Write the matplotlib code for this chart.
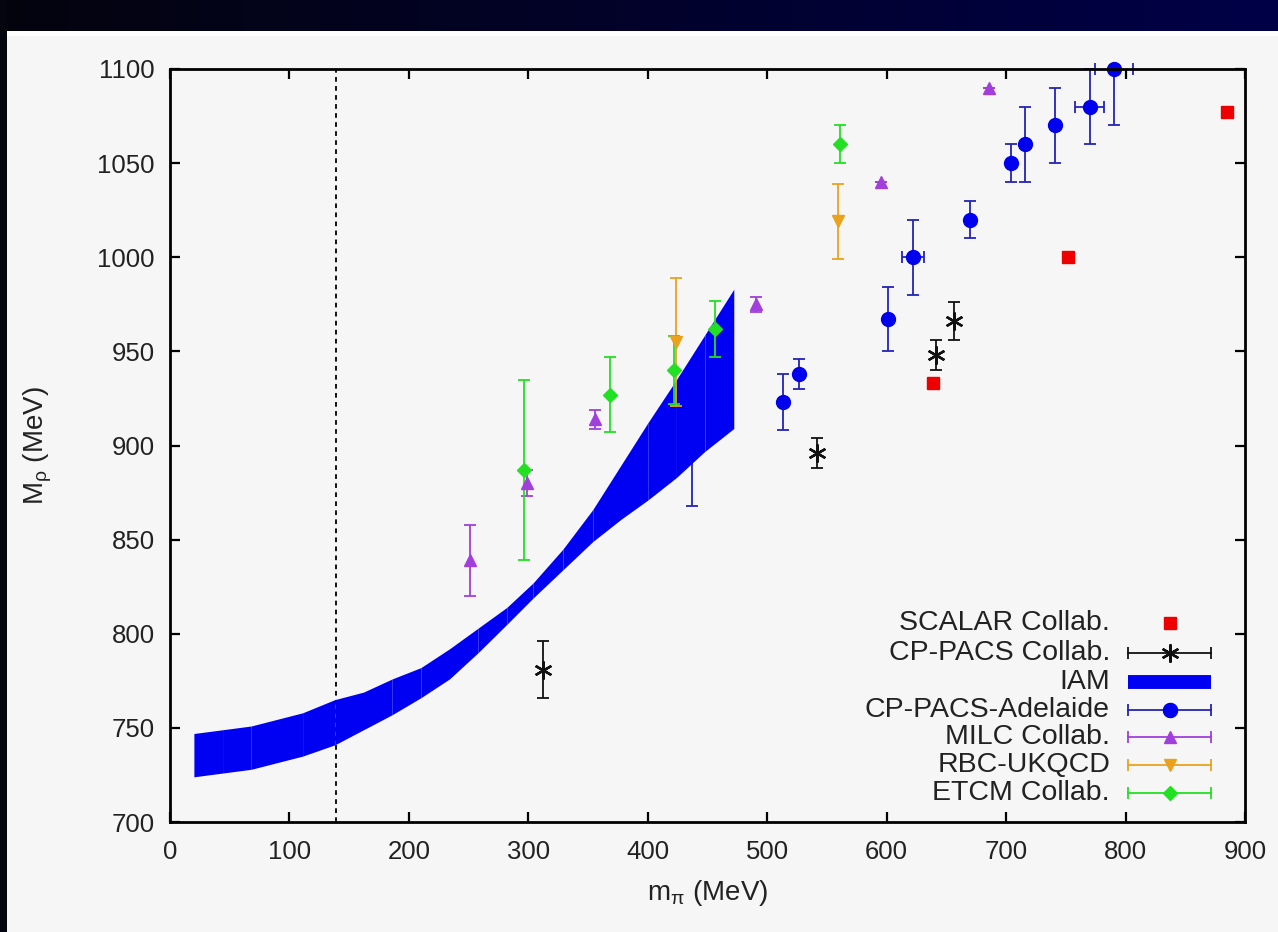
import numpy as np
import matplotlib
matplotlib.use('Agg')
import matplotlib.pyplot as plt

plt.rcParams['font.family'] = ['Liberation Sans', 'DejaVu Sans']
plt.rcParams['mathtext.fontset'] = 'custom'
plt.rcParams['mathtext.rm'] = 'Liberation Sans'
plt.rcParams['mathtext.it'] = 'Liberation Sans'
plt.rcParams['mathtext.sf'] = 'Liberation Sans'

# ---------------- data (MeV) ----------------
scalar_x = [639, 752, 885]
scalar_y = [933, 1000, 1077]

cppacs_x = [312, 542, 641, 656]
cppacs_y = [781, 896, 948, 966]
cppacs_yerr = [15, 8, 8, 10]

adel_x = [437, 513, 527, 601, 622, 670, 704, 716, 741, 770, 790]
adel_y = [902, 923, 938, 967, 1000, 1020, 1050, 1060, 1070, 1080, 1100]
adel_yerr_lo = [34, 15, 8, 17, 20, 10, 10, 20, 20, 20, 30]
adel_yerr_hi = [34, 15, 8, 17, 20, 10, 10, 20, 20, 20, 0]
adel_xerr = [6, 0, 0, 0, 9, 0, 0, 0, 0, 12, 16]

milc_x = [251, 299, 356, 491, 595, 686]
milc_y = [839, 880, 914, 975, 1040, 1090]
milc_yerr = [19, 7, 5, 4, 0, 0]

rbc_x = [424, 559]
rbc_y = [955, 1019]
rbc_yerr = [34, 20]

etmc_x = [296, 368, 422, 456, 561]
etmc_y = [887, 927, 940, 962, 1060]
etmc_yerr = [48, 20, 18, 15, 10]

iam_x = [20, 44, 68, 111, 138, 162, 186, 210, 234, 258, 282, 304, 329, 354, 378, 400, 424, 448, 472]
iam_hi = [747, 749, 751, 758, 765, 769, 776, 782, 792, 803, 814, 827, 845, 866, 890, 912, 935, 959, 983]
iam_lo = [724, 726, 728, 735, 741, 749, 757, 766, 776, 790, 805, 819, 834, 849, 861, 871, 883, 897, 909]

m_pi_phys = 139

x_ticks = list(range(0, 901, 100))
y_ticks = list(range(700, 1101, 50))

legend_labels = ['SCALAR Collab.', 'CP-PACS Collab.', 'IAM', 'CP-PACS-Adelaide',
                 'MILC Collab.', 'RBC-UKQCD', 'ETCM Collab.']

# ---------------- colours ----------------
c_red = '#ee0000'
c_blue = '#0000ee'
c_blue_bar = '#2424b8'
c_band = '#0000f2'
c_purple = '#a23fdc'
c_orange = '#eaa21c'
c_green = '#22e022'
c_black = '#111111'
c_text = '#222222'

W, H = 1278, 932
fig = plt.figure(figsize=(W / 100, H / 100), dpi=100)

# background: dark frame strips + white band + light gray panel
bg = np.full((H, W, 3), 246, dtype=np.uint8)
top_h = 31
bg[top_h:36, :, :] = 255
t = np.linspace(0, 1, W)
bg[:top_h, :, 0] = (4 * (1 - t))[None, :].astype(np.uint8)
bg[:top_h, :, 1] = (4 * (1 - t))[None, :].astype(np.uint8)
bg[:top_h, :, 2] = (14 + 58 * t)[None, :].astype(np.uint8)
bg[:, :7, :] = np.array([5, 5, 16], dtype=np.uint8)
fig.figimage(bg, xo=0, yo=0, origin='upper', zorder=-10)

L, R, T, B = 170, 1245, 69, 822
ax = fig.add_axes([L / W, (H - B) / H, (R - L) / W, (B - T) / H])
ax.set_facecolor('none')
ax.set_xlim(0, 900)
ax.set_ylim(700, 1100)

# IAM band as consecutive segments
for i in range(len(iam_x) - 1):
    ax.fill_between(iam_x[i:i + 2], iam_lo[i:i + 2], iam_hi[i:i + 2],
                    color=c_band, lw=0, zorder=2)

ax.axvline(m_pi_phys, color='black', lw=1.3, linestyle=(0, (2.6, 2.4)), zorder=1)

ekw = dict(elinewidth=1.3, capsize=4.5, capthick=1.3, linestyle='none')

ax.plot(scalar_x, scalar_y, 's', color=c_red, ms=9, mec=c_red, zorder=4, clip_on=False)

ax.errorbar(cppacs_x, cppacs_y, yerr=cppacs_yerr, fmt='none', ecolor=c_black, zorder=4, **ekw)
ax.plot(cppacs_x, cppacs_y, linestyle='none', marker=(6, 2, 0), ms=13, mew=1.7,
        color=c_black, zorder=5)

# Adelaide drawn beneath the band (the lowest point is hidden by it)
eb = ax.errorbar(adel_x, adel_y, yerr=[adel_yerr_lo, adel_yerr_hi], xerr=adel_xerr,
                 fmt='o', color=c_blue, ecolor=c_blue_bar, ms=10, zorder=1.5, **ekw)
eb[0].set_clip_on(False)
for cl in eb[1]:
    cl.set_clip_on(False)

ax.errorbar(milc_x, milc_y, yerr=milc_yerr, fmt='^', color=c_purple, ms=8, zorder=4, **ekw)
ax.errorbar(rbc_x, rbc_y, yerr=rbc_yerr, fmt='v', color=c_orange, ms=8, zorder=4, **ekw)
ax.errorbar(etmc_x, etmc_y, yerr=etmc_yerr, fmt='D', color=c_green, ms=7, zorder=4, **ekw)

# axes styling
for s in ax.spines.values():
    s.set_linewidth(2.0)
    s.set_color('black')
    s.set_zorder(3)
ax.set_xticks(x_ticks)
ax.set_yticks(y_ticks)
ax.tick_params(direction='in', length=7.5, width=1.6, top=True, right=True,
               labelsize=18.5, colors='black')
ax.tick_params(axis='x', pad=13)
ax.tick_params(axis='y', pad=11)
for lab in ax.get_xticklabels() + ax.get_yticklabels():
    lab.set_color(c_text)

ax.set_xlabel(r'm$_{\mathregular{\pi}}$ (MeV)', fontsize=20, color=c_text)
ax.set_ylabel(r'M$_{\mathregular{\rho}}$ (MeV)', fontsize=20, color=c_text)
ax.xaxis.set_label_coords(0.5, -0.094)
ax.xaxis.label.set_va('center')
ax.yaxis.set_label_coords(-0.123, 0.5)
ax.yaxis.label.set_va('center')

# manual gnuplot-style legend (text right aligned, sample on the right)
rows_px = [623, 653, 682, 710, 737, 765, 793]
tx = (1110 - L) / (R - L)
sx0 = (1128 - L) / (R - L)
sx1 = (1211 - L) / (R - L)
sxc = (sx0 + sx1) / 2
tr = ax.transAxes
for lbl, py in zip(legend_labels, rows_px):
    yy = (B - py) / (B - T)
    ax.text(tx, yy, lbl, transform=tr, ha='right', va='center', fontsize=20.5,
            color=c_text)

def leg_err(yy, color, marker, ms, mew=1.0):
    ax.plot([sx0, sx1], [yy, yy], transform=tr, color=color, lw=1.3, clip_on=False, zorder=6)
    ax.plot([sx0, sx1], [yy, yy], transform=tr, linestyle='none', marker='|', ms=9,
            mew=1.3, color=color, clip_on=False, zorder=6)
    ax.plot([sxc], [yy], transform=tr, linestyle='none', marker=marker, ms=ms, mew=mew,
            color=color, clip_on=False, zorder=7)

ys = [(B - py) / (B - T) for py in rows_px]
ax.plot([sxc], [ys[0]], transform=tr, marker='s', ms=9, color=c_red, clip_on=False, zorder=7)
leg_err(ys[1], c_black, (6, 2, 0), 13, 1.7)
ax.plot([sx0, sx1], [ys[2], ys[2]], transform=tr, color=c_band, lw=10,
        solid_capstyle='butt', clip_on=False, zorder=6)
leg_err(ys[3], c_blue_bar, 'o', 10)
ax.plot([sxc], [ys[3]], transform=tr, marker='o', ms=10, color=c_blue, clip_on=False, zorder=8)
leg_err(ys[4], c_purple, '^', 8)
leg_err(ys[5], c_orange, 'v', 8)
leg_err(ys[6], c_green, 'D', 7)

fig.savefig('out.png', dpi=100)
